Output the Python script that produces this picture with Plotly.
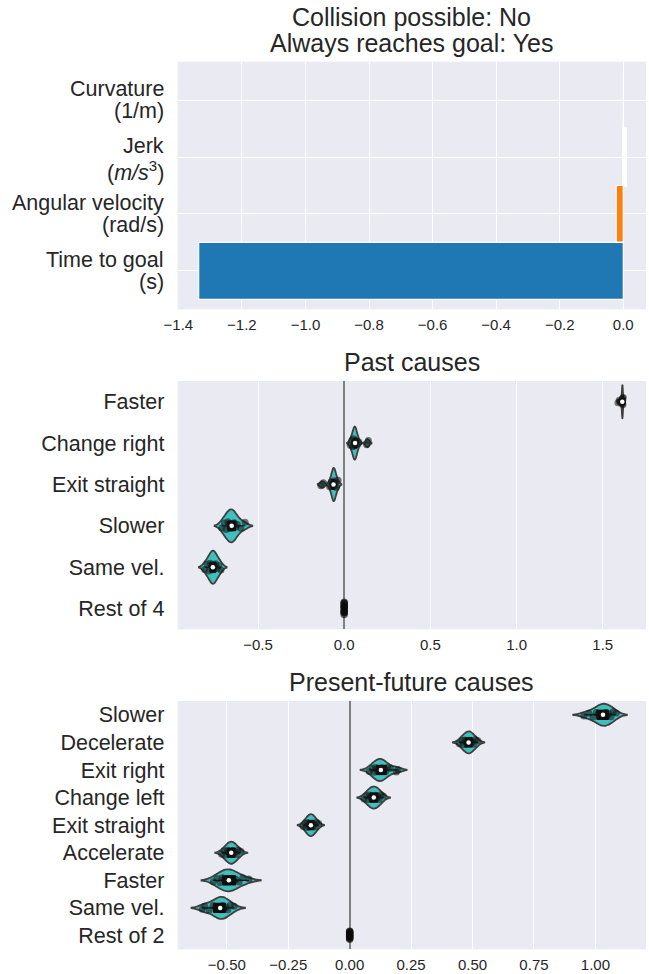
import numpy as np
import plotly.graph_objects as go

# ---------------- Top panel data ----------------
top_features = ["Curvature", "Jerk", "Angular velocity", "Time to goal"]
top_label_line1 = ["Curvature", "Jerk", "Angular velocity", "Time to goal"]
top_label_line2 = ["(1/m)", "(<i>m/s</i><sup>3</sup>)", "(rad/s)", "(s)"]
top_values = [0.0, 0.0075, -0.022, -1.336]
top_colors = ["#d62728", "#2ca02c", "#ff7f0e", "#1f77b4"]
top_title_1 = "Collision possible: No"
top_title_2 = "Always reaches goal: Yes"

# ---------------- Past causes ----------------
past_categories = ["Faster", "Change right", "Exit straight", "Slower", "Same vel.", "Rest of 4"]
past_faster = [1.609, 1.611, 1.612, 1.613, 1.613, 1.614, 1.614, 1.615, 1.615, 1.616, 1.617, 1.619, 1.596, 1.588]
past_change_right = [0.035, 0.045, 0.05, 0.055, 0.058, 0.06, 0.062, 0.064, 0.066, 0.07, 0.075, 0.085, 0.13, 0.14]
past_exit_straight = [-0.085, -0.075, -0.07, -0.066, -0.063, -0.061, -0.06, -0.058, -0.055, -0.05, -0.045, -0.035, -0.12, -0.135]
past_slower = [-0.71, -0.695, -0.685, -0.675, -0.668, -0.662, -0.656, -0.65, -0.645, -0.638, -0.63, -0.62, -0.6, -0.575]
past_same_vel = [-0.81, -0.795, -0.785, -0.777, -0.77, -0.765, -0.762, -0.758, -0.753, -0.746, -0.738, -0.728, -0.715]
past_rest = [0.0, 0.0, 0.0, 0.0, 0.0, 0.0, 0.0, 0.0, 0.0, 0.0, 0.0, 0.0]

# ---------------- Present-future causes ----------------
pf_categories = ["Slower", "Decelerate", "Exit right", "Change left", "Exit straight",
                 "Accelerate", "Faster", "Same vel.", "Rest of 2"]
pf_slower = [0.953, 0.974, 0.991, 1.004, 1.012, 1.019, 1.026, 1.031, 1.036, 1.042, 1.048, 1.055, 1.064, 1.072, 1.085]
pf_decelerate = [0.446, 0.457, 0.463, 0.468, 0.473, 0.477, 0.481, 0.484, 0.488, 0.491, 0.495, 0.500, 0.505, 0.512, 0.522]
pf_exit_right = [0.080, 0.092, 0.099, 0.105, 0.110, 0.115, 0.119, 0.123, 0.127, 0.131, 0.136, 0.141, 0.147, 0.154, 0.166, 0.19, 0.196]
pf_change_left = [0.058, 0.069, 0.076, 0.081, 0.086, 0.09, 0.094, 0.098, 0.102, 0.106, 0.11, 0.115, 0.12, 0.127, 0.137]
pf_exit_straight = [-0.190, -0.181, -0.176, -0.171, -0.167, -0.164, -0.161, -0.158, -0.155, -0.152, -0.149, -0.145, -0.140, -0.135, -0.126]
pf_accelerate = [-0.521, -0.510, -0.503, -0.498, -0.493, -0.489, -0.486, -0.482, -0.478, -0.475, -0.471, -0.466, -0.461, -0.454, -0.443]
pf_faster = [-0.555, -0.54, -0.528, -0.519, -0.511, -0.504, -0.498, -0.492, -0.486, -0.479, -0.471, -0.462, -0.45, -0.435, -0.41]
pf_same_vel = [-0.60, -0.59, -0.571, -0.556, -0.546, -0.538, -0.532, -0.527, -0.522, -0.517, -0.511, -0.504, -0.496, -0.486, -0.47]
pf_rest = [0.0, 0.0, 0.0, 0.0, 0.0, 0.0, 0.0, 0.0, 0.0, 0.0, 0.0, 0.0]

past_groups = [past_faster, past_change_right, past_exit_straight, past_slower, past_same_vel]
pf_groups = [pf_slower, pf_decelerate, pf_exit_right, pf_change_left, pf_exit_straight,
             pf_accelerate, pf_faster, pf_same_vel]

# ---------------- Style ----------------
FONT = "Liberation Sans, Arial, Helvetica, sans-serif"
TXT = "#262626"
BG = "#EAEAF2"
TEAL = "#3fc0bd"
EDGE = "#3f3f3f"
PTS = "rgba(20,20,20,0.55)"
YFS = 21.5
bar_edge_widths = [1.2, 2.6, 1.2, 1.2]

XDOM = [177.7 / 649, 646 / 649]
H = 974.0
def ydom(top_px, bot_px):
    return [1 - bot_px / H, 1 - top_px / H]

fig = go.Figure()

# Top bars
fig.add_trace(go.Bar(
    x=top_values, y=top_features, orientation="h", width=1.0,
    marker=dict(color=top_colors, line=dict(color="white", width=bar_edge_widths)),
    xaxis="x", yaxis="y", showlegend=False, hoverinfo="skip"))

def add_violin_panel(groups, cats, rest_vals, rest_cat, xa, ya, box_w):
    for c, g in zip(cats, groups):
        fig.add_trace(go.Violin(
            x=g, y=[c] * len(g), orientation="h", width=0.8, scalemode="width",
            spanmode="soft", fillcolor=TEAL, opacity=1,
            line=dict(color=EDGE, width=1.8),
            box=dict(visible=True, width=box_w, fillcolor="black", line=dict(color="black", width=1)),
            meanline=dict(visible=False),
            points="all", pointpos=0, jitter=0.3,
            marker=dict(color=PTS, size=7, line=dict(width=0)),
            xaxis=xa, yaxis=ya, showlegend=False, hoverinfo="skip"))
    fig.add_trace(go.Box(
        x=rest_vals, y=[rest_cat] * len(rest_vals), orientation="h", width=0.8,
        boxpoints="all", jitter=0.45, pointpos=0,
        line=dict(width=0, color="rgba(0,0,0,0)"), fillcolor="rgba(0,0,0,0)",
        marker=dict(color="rgba(10,10,10,0.6)", size=7.5, line=dict(width=0)),
        xaxis=xa, yaxis=ya, showlegend=False, hoverinfo="skip"))
    meds = [float(np.median(g)) for g in groups]
    fig.add_trace(go.Scatter(
        x=meds, y=cats, mode="markers",
        marker=dict(color="white", size=4.5, symbol="circle", line=dict(width=0)),
        xaxis=xa, yaxis=ya, showlegend=False, hoverinfo="skip"))

add_violin_panel(past_groups, past_categories[:-1], past_rest, past_categories[-1], "x2", "y2", 0.3)
add_violin_panel(pf_groups, pf_categories[:-1], pf_rest, pf_categories[-1], "x3", "y3", 0.42)

xcommon = dict(domain=XDOM, showgrid=True, gridcolor="white", gridwidth=1, automargin=False,
               showline=False, ticks="outside", ticklen=2, tickcolor="rgba(0,0,0,0)",
               tickfont=dict(size=15, color=TXT, family=FONT), fixedrange=True)
ycommon = dict(type="category", showline=False, zeroline=False, ticks="outside", ticklen=8,
               automargin=False, tickcolor="rgba(0,0,0,0)",
               tickfont=dict(size=YFS, color=TXT, family=FONT), fixedrange=True)

fig.update_layout(
    width=649, height=974,
    margin=dict(l=0, r=0, t=0, b=0, autoexpand=False),
    paper_bgcolor="white", plot_bgcolor=BG,
    font=dict(family=FONT, color=TXT),
    violinmode="overlay", boxmode="overlay",
    xaxis=dict(**xcommon, anchor="y", range=[-1.402, 0.0715], tick0=0, dtick=0.2,
               tickformat=".1f", zeroline=False),
    yaxis=dict(**ycommon, domain=ydom(61.7, 309.3), anchor="x",
               categoryorder="array", categoryarray=top_features,
               range=[3.675, -0.675], showticklabels=False,
               showgrid=True, gridcolor="white", gridwidth=1),
    xaxis2=dict(**xcommon, anchor="y2", range=[-0.966, 1.751], tick0=0, dtick=0.5,
                tickformat=".1f", zeroline=True, zerolinecolor="#808080", zerolinewidth=2),
    yaxis2=dict(**ycommon, domain=ydom(381, 629.3), anchor="x2",
                categoryorder="array", categoryarray=past_categories,
                range=[5.5, -0.5], showgrid=False),
    xaxis3=dict(**xcommon, anchor="y3", range=[-0.700, 1.206], tick0=0, dtick=0.25,
                tickformat=".2f", zeroline=True, zerolinecolor="#808080", zerolinewidth=2),
    yaxis3=dict(**ycommon, domain=ydom(701, 949.3), anchor="x3",
                categoryorder="array", categoryarray=pf_categories,
                range=[8.5, -0.5], showgrid=False),
)

# Two-line y labels of the top panel (matplotlib-like tight line spacing)
label_x = 165.5 / 649
shifts = [(11.2, -11.2), (11.5, -13.5), (11.2, -11.2), (11.2, -11.2)]
for feat, l1, l2, (s1, s2) in zip(top_features, top_label_line1, top_label_line2, shifts):
    for txt, s in [(l1, s1), (l2, s2)]:
        fig.add_annotation(text=txt, xref="paper", yref="y", x=label_x, y=feat,
                           xanchor="right", yanchor="middle", yshift=s, showarrow=False,
                           font=dict(size=YFS, color=TXT, family=FONT))

xc = (XDOM[0] + XDOM[1]) / 2
title_font = dict(size=25, color=TXT, family=FONT)
for txt, ypx in [(top_title_1, 17.0), (top_title_2, 43.5), ("Past causes", 362.0),
                 ("Present-future causes", 682.0)]:
    fig.add_annotation(text=txt, xref="paper", yref="paper", x=xc, y=1 - ypx / H,
                       xanchor="center", yanchor="middle", showarrow=False, font=title_font)

fig.write_html("out.html", config={"displayModeBar": False},
               post_script="document.body.style.margin='0';document.body.style.overflow='hidden';")
